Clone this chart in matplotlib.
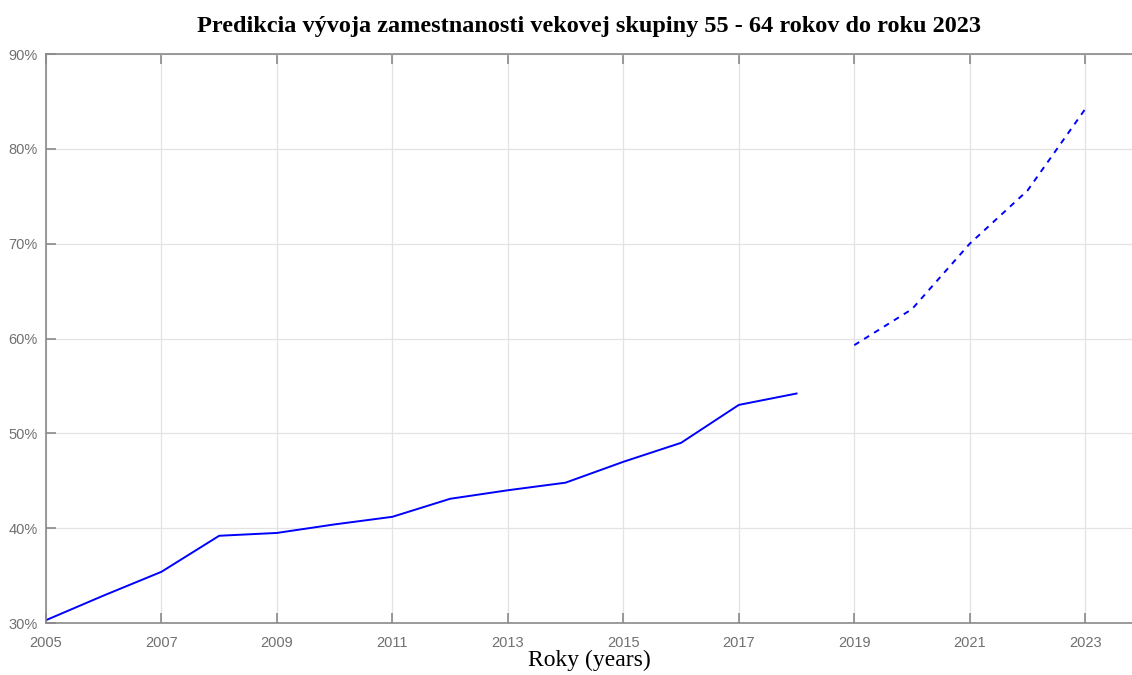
import matplotlib.pyplot as plt
import matplotlib.ticker as mticker

# employment rate of the 55-64 age group (%)
years_hist = [2005, 2006, 2007, 2008, 2009, 2010, 2011, 2012, 2013, 2014, 2015, 2016, 2017, 2018]
rate_hist = [30.3, 32.9, 35.4, 39.2, 39.5, 40.4, 41.2, 43.1, 44.0, 44.8, 47.0, 49.0, 53.0, 54.2]

years_pred = [2019, 2020, 2021, 2022, 2023]
rate_pred = [59.3, 63.1, 70.0, 75.6, 84.2]

xticks = [2005, 2007, 2009, 2011, 2013, 2015, 2017, 2019, 2021, 2023]

fig = plt.figure(figsize=(11.32, 6.75), dpi=100)
ax = fig.add_axes([0.0406, 0.077, 0.9594, 0.843])

ax.plot(years_hist, rate_hist, '-', color='#0000ff', linewidth=1.4)
ax.plot(years_pred, rate_pred, '--', color='#0000ff', linewidth=1.4, dashes=(3, 3))

ax.set_xlim(2005, 2023.81)
ax.set_ylim(30, 90)
ax.set_xticks(xticks)
ax.set_yticks(range(30, 91, 10))
ax.yaxis.set_major_formatter(mticker.FuncFormatter(lambda v, p: f'{v:.0f}%'))

ax.grid(True, color='#e3e3e3', linewidth=0.9)
ax.set_axisbelow(True)
for s in ['left', 'bottom', 'top']:
    ax.spines[s].set_color('#8a8a8a')
    ax.spines[s].set_linewidth(1.2)
ax.spines['right'].set_visible(False)

ax.tick_params(direction='in', length=7, width=1.2, color='#8a8a8a',
               labelcolor='#707070', labelsize=10.5, top=True,
               labelfontfamily='Liberation Sans')
ax.tick_params(axis='x', pad=9)
ax.tick_params(axis='y', pad=6)

ax.set_xlabel('Roky (years)', fontsize=17, family='Liberation Serif', labelpad=0)
ax.set_title('Predikcia vývoja zamestnanosti vekovej skupiny 55 - 64 rokov do roku 2023',
             fontsize=17.5, fontweight='bold', family='Liberation Serif', pad=16)

fig.savefig('out.png', dpi=100)
